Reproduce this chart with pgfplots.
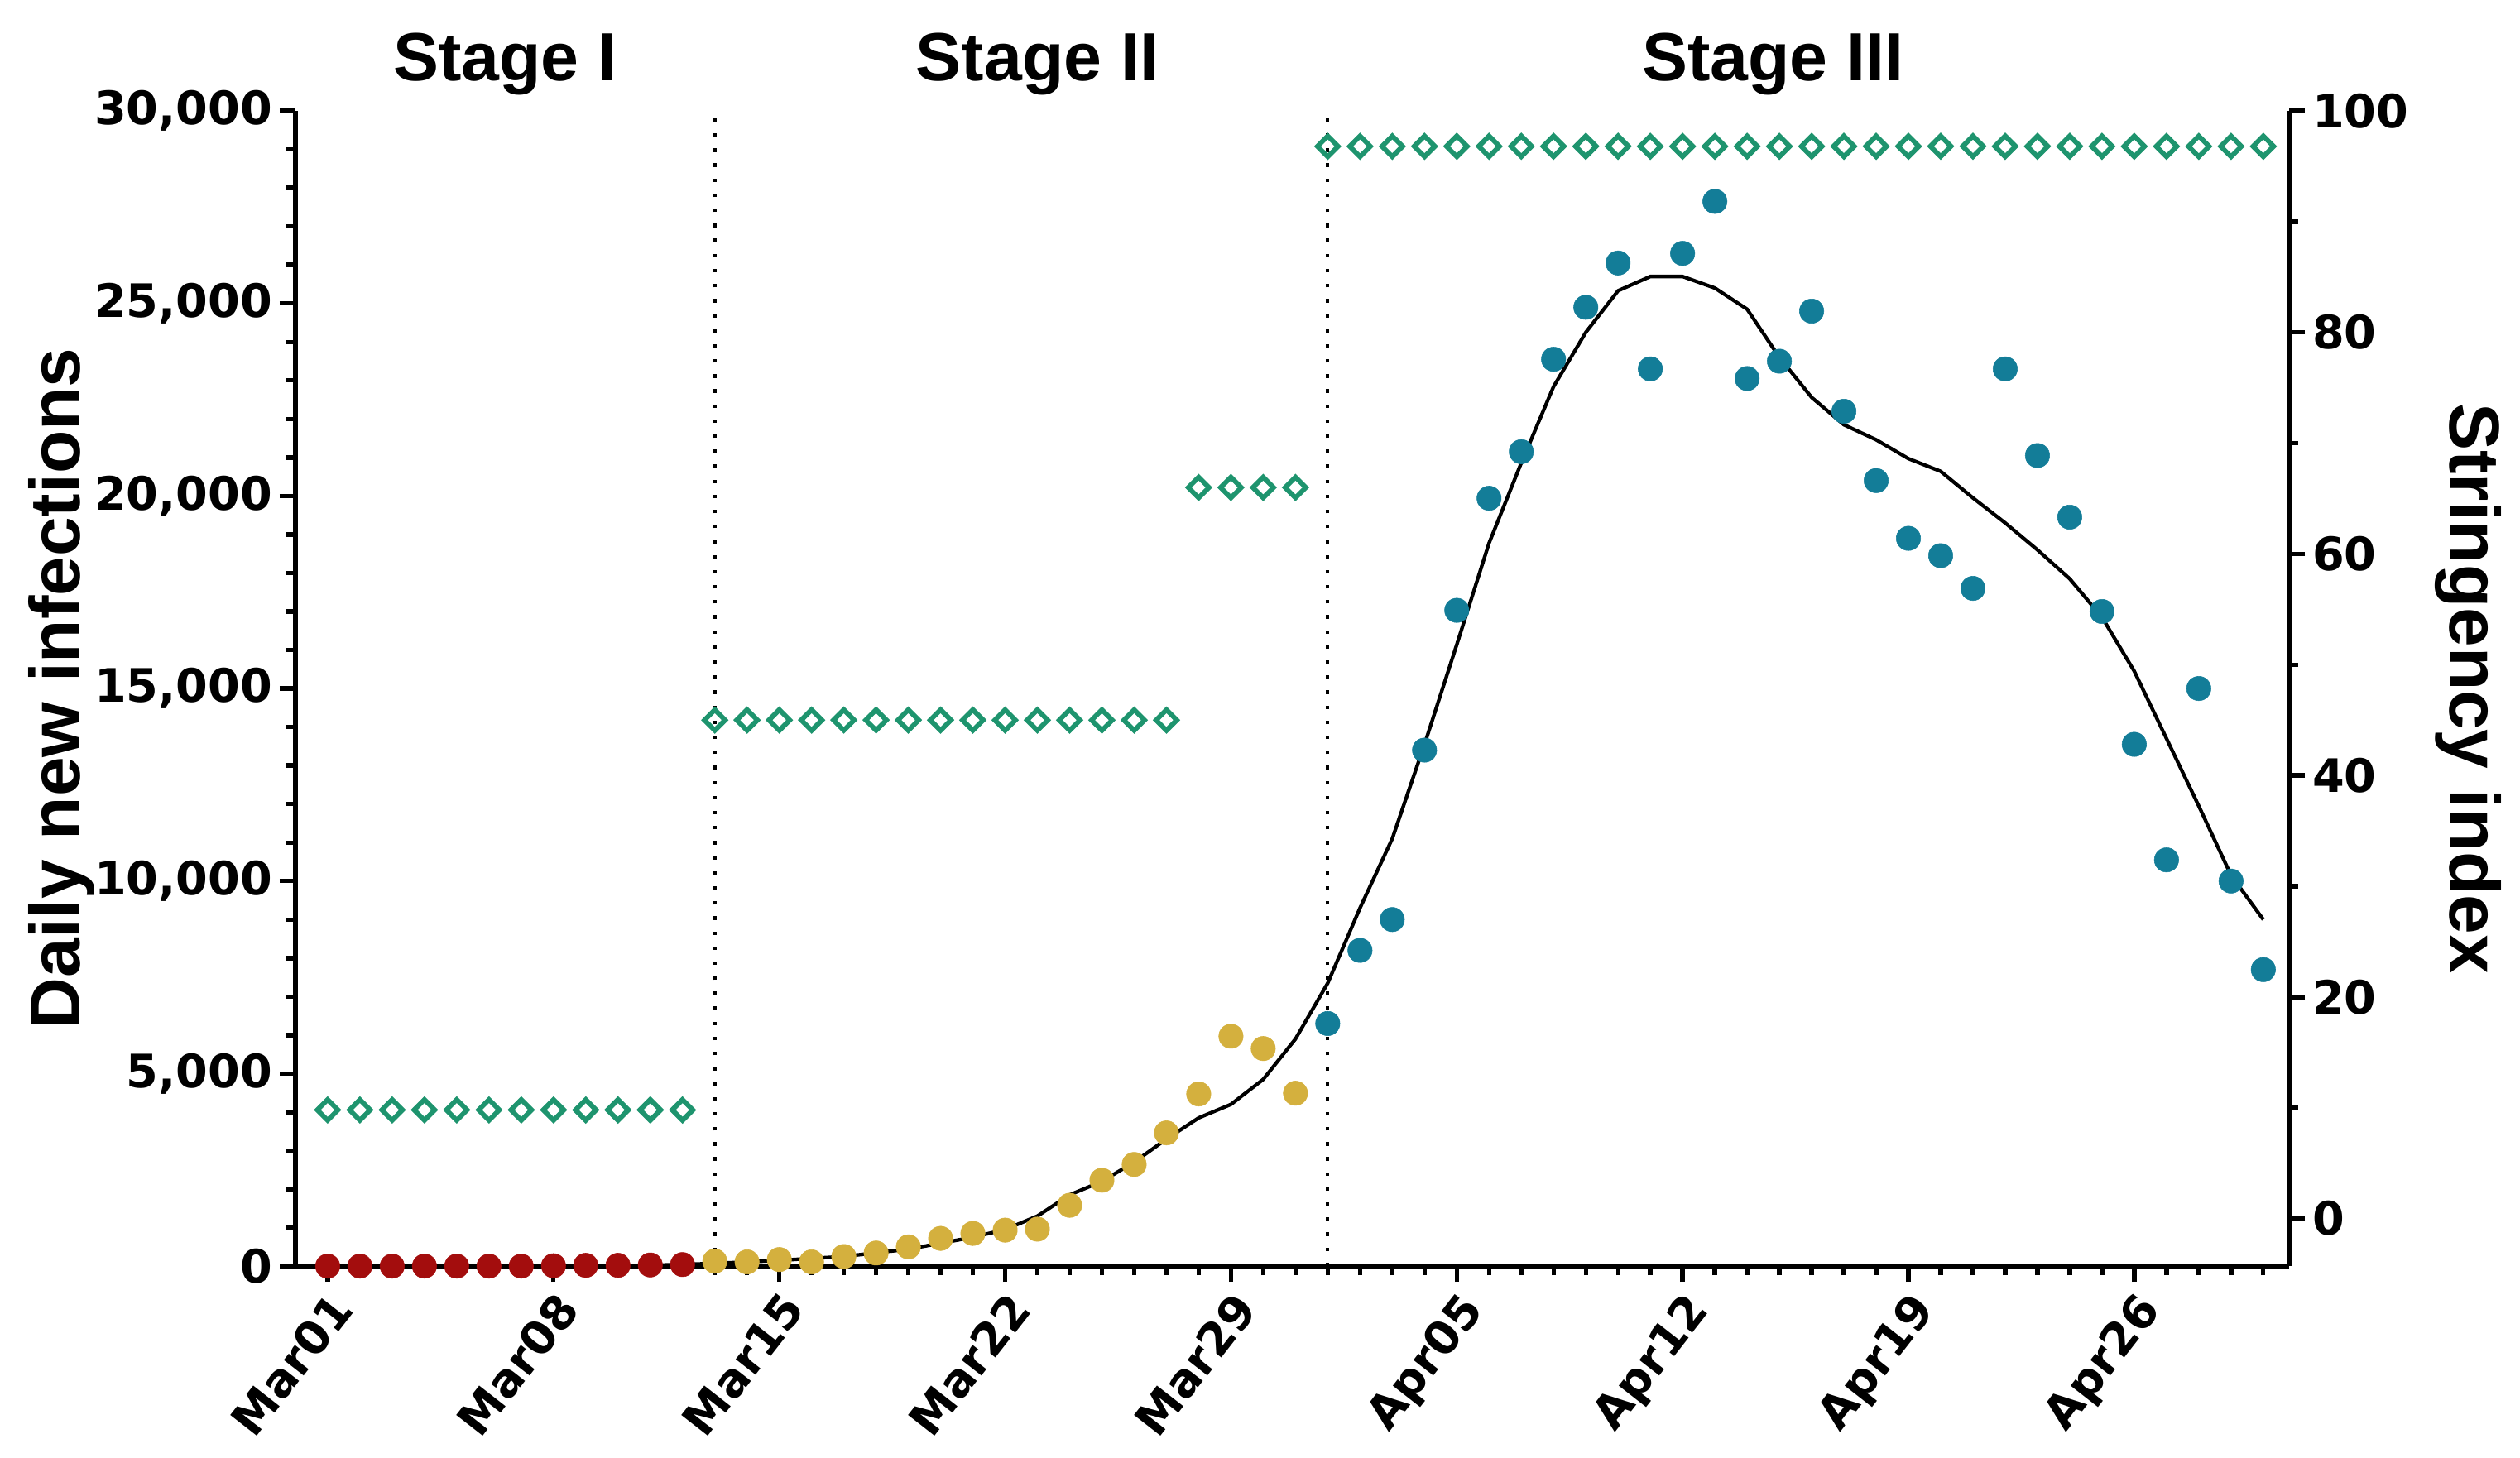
\documentclass[border=0pt]{standalone}
\usepackage{fontspec}
\setmainfont{Liberation Sans}
\newfontfamily\tickfont{DejaVu Sans}
\usepackage{pgfplots}
\pgfplotsset{compat=1.18}

\definecolor{stageone}{HTML}{A30D0D}
\definecolor{stagetwo}{HTML}{D4B03E}
\definecolor{stagethree}{HTML}{137D98}
\definecolor{stringency}{HTML}{1E946E}

\pgfplotsset{
  common/.style={
    at={(0,0)}, anchor=south west,
    scale only axis, width=15.82cm, height=9.168cm,
    xmin=-1, xmax=60.8,
    clip=false,
    scaled y ticks=false,
    axis line style={line width=1.2pt},
    tick align=outside,
    major tick length=0.125cm, minor tick length=0.072cm,
    tick style={black, line width=1pt},
    tick label style={font=\tickfont\bfseries\fontsize{10.4}{12}\selectfont},
    yticklabel style={inner sep=1.5pt},
    label style={font=\bfseries\fontsize{16}{19}\selectfont},
  },
  dot/.style={color=#1, only marks, mark=*, mark size=2.75pt,
    mark options={solid, draw=#1, fill=#1, line width=0.1pt}},
}

\begin{document}
\begin{tikzpicture}
\useasboundingbox (-2.344,-1.517) rectangle (17.652,10.048);

% daily new infections (left axis)
\begin{axis}[common,
  ymin=0, ymax=30000,
  axis x line*=bottom, axis y line*=left,
  xtick={0,7,...,56},
  xticklabels={Mar01,Mar08,Mar15,Mar22,Mar29,Apr05,Apr12,Apr19,Apr26},
  minor xtick={1,...,60},
  xticklabel style={rotate=52, anchor=north east, inner sep=1pt},
  ytick={0,5000,...,30000},
  yticklabels={0,{5,000},{10,000},{15,000},{20,000},{25,000},{30,000}},
  minor ytick={1000,2000,...,29000},
  ylabel={Daily new infections},
  ylabel style={at={(axis description cs:-0.1174,0.5)}, anchor=center},
]
% stage boundaries
\addplot[black, line width=0.8pt, dash pattern=on 0.8pt off 2.6pt] coordinates {(12,0) (12,30000)};
\addplot[black, line width=0.8pt, dash pattern=on 0.8pt off 2.6pt] coordinates {(31,0) (31,30000)};

% fitted curve
\addplot[black, line width=0.8pt] coordinates {
(0,0) (5,0) (10,20) (12,70) (14,150) (16,250) (18,440) (20,750) (21,950)
(22,1300) (23,1850) (24,2200) (25,2700) (26,3300) (27,3850) (28,4200)
(29,4850) (30,5900) (31,7350) (32,9300) (33,11100) (34,13550) (35,16140)
(36,18775) (37,20860) (38,22840) (39,24250) (40,25330) (41,25700) (42,25700)
(43,25400) (44,24850) (45,23600) (46,22560) (47,21850) (48,21460) (49,20970)
(50,20640) (51,19950) (52,19300) (53,18600) (54,17850) (55,16850) (56,15450)
(57,13700) (58,11950) (59,10150) (60,9000)
};

% Stage I
\addplot[dot=stageone] coordinates {
(0,0) (1,0) (2,0) (3,0) (4,0) (5,0) (6,0) (7,10) (8,20) (9,20) (10,30) (11,40)
};
% Stage II
\addplot[dot=stagetwo] coordinates {
(12,130) (13,110) (14,170) (15,110) (16,250) (17,340) (18,500) (19,720)
(20,850) (21,935) (22,960) (23,1580) (24,2230) (25,2640) (26,3460)
(27,4470) (28,5970) (29,5650) (30,4490)
};
% Stage III
\addplot[dot=stagethree] coordinates {
(31,6300) (32,8200) (33,9000) (34,13400) (35,17030) (36,19940) (37,21150)
(38,23550) (39,24900) (40,26050) (41,23300) (42,26300) (43,27650) (44,23050)
(45,23500) (46,24800) (47,22200) (48,20400) (49,18900) (50,18450) (51,17600)
(52,23300) (53,21050) (54,19450) (55,17000) (56,13550) (57,10550) (58,15000)
(59,10000) (60,7700)
};

\node[anchor=base, yshift=0.24cm, font=\bfseries\fontsize{15.4}{18}\selectfont] at (axis cs:5.5,30000) {Stage I};
\node[anchor=base, yshift=0.24cm, font=\bfseries\fontsize{15.4}{18}\selectfont] at (axis cs:22,30000) {Stage II};
\node[anchor=base, yshift=0.24cm, font=\bfseries\fontsize{15.4}{18}\selectfont] at (axis cs:44.8,30000) {Stage III};
\end{axis}

% stringency index (right axis)
\begin{axis}[common,
  ymin=-4.3, ymax=100,
  axis x line=none, axis y line*=right,
  ytick={0,20,...,100},
  yticklabels={0,20,40,60,80,100},
  minor ytick={10,30,50,70,90},
  ylabel={Stringency index},
  ylabel style={at={(axis description cs:1.09,0.5)}, anchor=center, rotate=180},
]
\addplot[only marks, mark=square, mark size=1.65pt,
  mark options={rotate=45, draw=stringency, line width=1.1pt, fill=white}]
coordinates {
(0,9.8) (1,9.8) (2,9.8) (3,9.8) (4,9.8) (5,9.8) (6,9.8) (7,9.8)
(8,9.8) (9,9.8) (10,9.8) (11,9.8)
(12,45.0) (13,45.0) (14,45.0) (15,45.0) (16,45.0) (17,45.0) (18,45.0)
(19,45.0) (20,45.0) (21,45.0) (22,45.0) (23,45.0) (24,45.0) (25,45.0) (26,45.0)
(27,66.0) (28,66.0) (29,66.0) (30,66.0)
(31,96.8) (32,96.8) (33,96.8) (34,96.8) (35,96.8) (36,96.8) (37,96.8)
(38,96.8) (39,96.8) (40,96.8) (41,96.8) (42,96.8) (43,96.8) (44,96.8)
(45,96.8) (46,96.8) (47,96.8) (48,96.8) (49,96.8) (50,96.8) (51,96.8)
(52,96.8) (53,96.8) (54,96.8) (55,96.8) (56,96.8) (57,96.8) (58,96.8)
(59,96.8) (60,96.8)
};
\end{axis}
\end{tikzpicture}
\end{document}
